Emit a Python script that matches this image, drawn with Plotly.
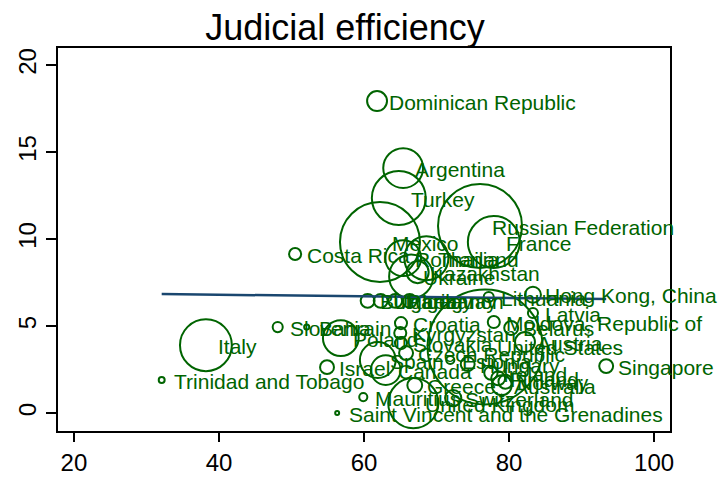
import plotly.graph_objects as go

# ---- data ----
countries = [
    "Dominican Republic", "Argentina", "Turkey", "Mexico", "Russian Federation",
    "France", "Costa Rica", "Romania", "Thailand", "Kazakhstan", "Ukraine",
    "Hong Kong, China", "Lithuania", "Latvia", "Moldova, Republic of", "Belarus",
    "Austria", "United States", "Singapore", "Italy", "Trinidad and Tobago",
    "Slovenia", "Bahrain", "Poland", "Croatia", "Kyrgyzstan", "Slovakia",
    "Czech Republic", "Spain", "Estonia", "Hungary", "Israel", "Canada",
    "Mauritius", "Saint Vincent and the Grenadines", "United Kingdom",
    "Bulgaria", "Uruguay", "Paraguay", "Lebanon",
    "Switzerland", "Greece", "Ireland", "Finland", "Australia", "Norway",
]
x_vals = [
    61.8, 65.4, 64.8, 62.2, 76.0,
    77.9, 50.5, 65.4, 68.6, 67.4, 66.5,
    83.3, 77.2, 83.3, 77.9, 80.3,
    82.2, 76.7, 93.4, 38.2, 32.1,
    48.1, 52.1, 56.8, 65.1, 65.0, 65.1,
    65.8, 61.9, 71.9, 74.3, 54.9, 63.0,
    59.9, 56.3, 66.8,
    60.5, 62.3, 64.3, 66.3,
    72.3, 67.0, 77.5, 78.5, 79.0, 79.5,
]
y_vals = [
    17.93, 14.08, 12.36, 9.83, 10.75,
    9.83, 9.14, 8.90, 8.90, 8.10, 7.85,
    6.80, 6.67, 5.75, 5.23, 4.89,
    4.08, 3.80, 2.70, 3.90, 1.90,
    4.94, 4.94, 4.31, 5.17, 4.60, 4.02,
    3.45, 3.05, 3.05, 2.82, 2.64, 2.47,
    0.92, 0.00, 0.57,
    6.45, 6.45, 6.45, 6.45,
    0.86, 1.60, 2.30, 2.00, 1.60, 1.80,
]
weights = [
    9, 36, 66, 145, 160,
    61, 3.3, 29, 44, 11, 44,
    5.8, 2.3, 2.3, 3.3, 4.4,
    9, 300, 4.4, 61, 0.8,
    2.3, 0.6, 29, 3.3, 3.3, 3.3,
    4.4, 29, 1.5, 4.4, 4.4, 20,
    1.5, 0.36, 57,
    4.4, 4.4, 4.4, 4.4,
    6, 5, 4, 4.4, 9, 4.4,
]
x_ticks = [20, 40, 60, 80, 100]
y_ticks = [0, 5, 10, 15, 20]
fit_intercept = 6.99
fit_slope = -0.00472

GREEN = "#006400"
NAVY = "#1a476f"
FONT = "Liberation Sans, Arial, Helvetica, sans-serif"

fig = go.Figure()

# bubbles (area proportional to weight)
fig.add_trace(go.Scatter(
    x=x_vals, y=y_vals, mode="markers",
    marker=dict(size=weights, sizemode="area", sizeref=2 / 44.1, sizemin=1.5,
                opacity=1, symbol="circle-open", color=GREEN,
                line=dict(width=2, color=GREEN)),
    cliponaxis=False, hoverinfo="skip", showlegend=False,
))

# fitted line
xmin, xmax = min(x_vals), max(x_vals)
fig.add_trace(go.Scatter(
    x=[xmin, xmax], y=[fit_intercept + fit_slope * xmin, fit_intercept + fit_slope * xmax],
    mode="lines", line=dict(color=NAVY, width=2.5),
    hoverinfo="skip", showlegend=False,
))

# marker labels: to the right of each marker centre, at a fixed pixel offset
annotations = [
    dict(x=xv, y=yv, xref="x", yref="y", text=name, showarrow=False,
         xanchor="left", yanchor="middle", xshift=10, yshift=-1,
         font=dict(family=FONT, size=21, color=GREEN))
    for name, xv, yv in zip(countries, x_vals, y_vals)
]

# the page body adds an 8px margin, so the figure is 720x469 at (8, 8)
fig.update_layout(
    width=720, height=469,
    margin=dict(l=50, r=58, t=40, b=46, autoexpand=False),
    paper_bgcolor="white", plot_bgcolor="white",
    font=dict(family=FONT, color="black"),
    annotations=annotations,
    title=dict(text="Judicial efficiency", x=0.468, xanchor="center",
               y=1 - 19 / 469, yanchor="middle", yref="container",
               font=dict(family=FONT, size=36, color="black")),
    xaxis=dict(range=[17.8, 102.2], tickvals=x_ticks, ticks="outside", ticklen=9,
               tickwidth=1.5, tickcolor="black", showline=True, linecolor="black",
               linewidth=2, mirror=True, showgrid=False, zeroline=False,
               automargin=False,
               tickfont=dict(family=FONT, size=24, color="black")),
    yaxis=dict(range=[-1.03, 20.98], tickvals=y_ticks, ticks="outside", ticklen=10,
               tickwidth=1.5, tickcolor="black", showline=True, linecolor="black",
               linewidth=2, mirror=True, showgrid=False, zeroline=False,
               tickangle=-90, automargin=False,
               tickfont=dict(family=FONT, size=24, color="black")),
)

fig.write_html("out.html")
